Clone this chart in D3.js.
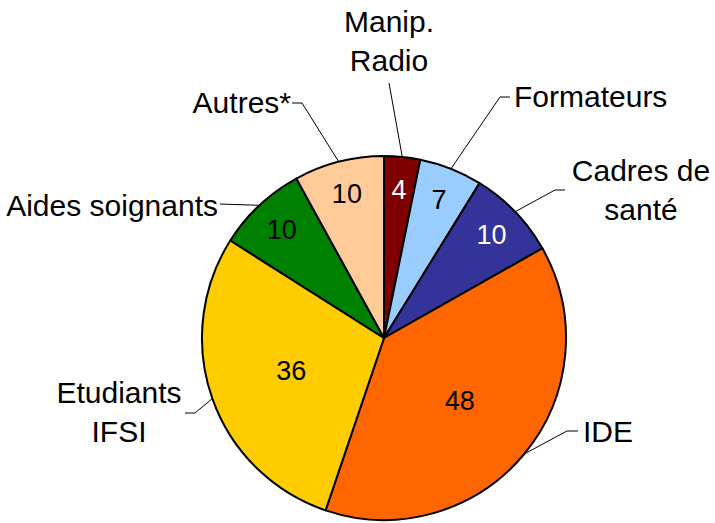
<!DOCTYPE html>
<html lang="fr">
	<head>
		<meta charset="utf-8">
		<title>pie chart</title>
		<script type="text/javascript" src="https://d3js.org/d3.v7.min.js"></script>
		<style type="text/css">
            body{margin:0;background:#fff;font-family:"Liberation Sans",Arial,helvetica,sans-serif;}
		</style>
	</head>
	<body>
		<div id="chart1"></div>
		 <script type="text/javascript">
            // data, clockwise from 12 o'clock
            var categories = ["Manip. Radio","Formateurs","Cadres de santé","IDE","Etudiants IFSI","Aides soignants","Autres*"]
            var values = [4,7,10,48,36,10,10]
            var labelLines = [["Manip.","Radio"],["Formateurs"],["Cadres de","santé"],["IDE"],["Etudiants","IFSI"],["Aides soignants"],["Autres*"]]

            var colors = ["#800000","#99ccff","#333399","#ff6600","#ffcc00","#008000","#ffcc99"]
            var valueColors = ["#fff","#000","#fff","#000","#000","#000","#000"]

            // where each outside label sits (x, first baseline, anchor) and the bend of its leader line
            var labelLayout = [
                {x:389,y:32,anchor:"middle",bend:[389,83],end:null},
                {x:514,y:107,anchor:"start",bend:[500,97],end:[510,97]},
                {x:641,y:181,anchor:"middle",bend:[555,190],end:[565,190]},
                {x:583,y:442,anchor:"start",bend:[567,431],end:[578,431]},
                {x:119,y:403,anchor:"middle",bend:[195,413],end:[185,413]},
                {x:218,y:216,anchor:"end",bend:[220,204],end:null},
                {x:291,y:113,anchor:"end",bend:[302,103],end:[292,103]}
            ]

            var w = 715
            var h = 523
            var cx = 384
            var cy = 338
            var r = 182
            var lineH = 39

            var svg = d3.select("#chart1")
                        .append("svg")
                        .attr("width",w)
                        .attr("height",h)

            var pie = d3.pie().sort(null).value(function(d){ return d })
            var arcs = pie(values)
            var arc = d3.arc().innerRadius(0).outerRadius(r)

            var g = svg.append("g")
                .attr("transform","translate("+cx+","+cy+")")

            g.selectAll("path")
                .data(arcs)
                .enter()
                .append("path")
                .attr("d",arc)
                .attr("fill",function(d,i){ return colors[i] })
                .attr("stroke","#000")
                .attr("stroke-width",2)
                .attr("stroke-linejoin","round")

            // numbers inside the slices: big slices nearer the centre, small ones near the rim
            g.selectAll(".value")
                .data(arcs)
                .enter()
                .append("text")
                .attr("class","value")
                .attr("transform",function(d){
                    var rr = (d.endAngle-d.startAngle) > 1.5 ? r*0.54 : r*0.82
                    var c = d3.arc().innerRadius(rr).outerRadius(rr).centroid(d)
                    return "translate("+c[0]+","+c[1]+")"
                })
                .attr("text-anchor","middle")
                .attr("dy","0.36em")
                .style("font-size","27px")
                .attr("fill",function(d,i){ return valueColors[i] })
                .text(function(d){ return d.data })

            // leader lines from the rim (middle of each slice) to the label
            var rim = d3.arc().innerRadius(r).outerRadius(r)
            svg.selectAll(".leader")
                .data(arcs)
                .enter()
                .append("polyline")
                .attr("class","leader")
                .attr("points",function(d,i){
                    var c = rim.centroid(d)
                    var L = labelLayout[i]
                    var pts = [[cx+c[0],cy+c[1]],L.bend]
                    if(L.end){ pts.push(L.end) }
                    return pts.map(function(p){ return p.join(",") }).join(" ")
                })
                .attr("fill","none")
                .attr("stroke","#000")
                .attr("stroke-width",1)

            var labels = svg.selectAll(".label")
                .data(categories)
                .enter()
                .append("text")
                .attr("class","label")
                .attr("text-anchor",function(d,i){ return labelLayout[i].anchor })
                .style("font-size","30px")
                .attr("fill","#000")

            labels.selectAll("tspan")
                .data(function(d,i){ return labelLines[i].map(function(t){ return {t:t,i:i} }) })
                .enter()
                .append("tspan")
                .attr("x",function(d){ return labelLayout[d.i].x })
                .attr("y",function(d,j){ return labelLayout[d.i].y + j*lineH })
                .text(function(d){ return d.t })
		</script>
	</body>
</html>
